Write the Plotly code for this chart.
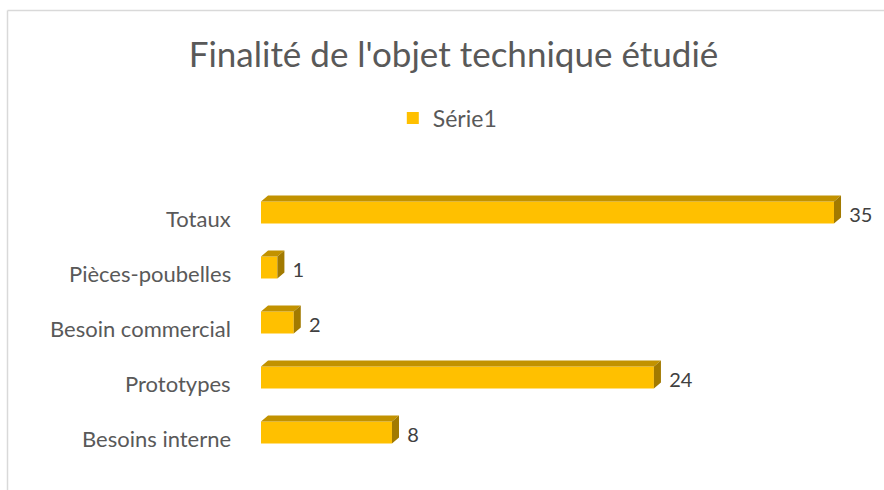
import plotly.graph_objects as go

categories = ["Besoins interne", "Prototypes", "Besoin commercial", "Pièces-poubelles", "Totaux"]
values = [8, 24, 2, 1, 35]
series_name = "Série1"
title_text = "Finalité de l'objet technique étudié"

FRONT = "#FFC000"
TOP = "#C29200"
SIDE = "#A27A00"
TXT = "#595959"
FONT = "Lato"

half = 0.2      # half bar thickness (category units)
dx = 0.43       # depth in value units
dy = 0.11       # depth in category units

idx = list(range(len(categories)))

fig = go.Figure()

# top faces
tx, ty = [], []
for i, v in zip(idx, values):
    tx += [0, v, v + dx, dx, 0, None]
    ty += [i + half, i + half, i + half + dy, i + half + dy, i + half, None]
fig.add_trace(go.Scatter(x=tx, y=ty, mode="lines", fill="toself", fillcolor=TOP,
                         line=dict(width=0, color=TOP), showlegend=False, hoverinfo="skip"))
# side faces
sx, sy = [], []
for i, v in zip(idx, values):
    sx += [v, v + dx, v + dx, v, v, None]
    sy += [i - half, i - half + dy, i + half + dy, i + half, i - half, None]
fig.add_trace(go.Scatter(x=sx, y=sy, mode="lines", fill="toself", fillcolor=SIDE,
                         line=dict(width=0, color=SIDE), showlegend=False, hoverinfo="skip"))
# front faces
fig.add_trace(go.Bar(x=values, y=idx, orientation="h", width=2 * half, name=series_name,
                     marker=dict(color=FRONT, line=dict(width=0)), hoverinfo="x+name"))
# value labels
fig.add_trace(go.Scatter(x=[v + dx + 0.5 for v in values], y=[i - 0.08 for i in idx],
                         mode="text", text=[str(v) for v in values], textposition="middle right",
                         textfont=dict(family=FONT, size=20, color="#404040"),
                         cliponaxis=False, showlegend=False, hoverinfo="skip"))

# category labels
for i, c in zip(idx, categories):
    fig.add_annotation(x=0, y=i, xref="paper", yref="y", text=c, showarrow=False,
                       xanchor="right", yanchor="middle", xshift=-28, yshift=-6,
                       font=dict(family=FONT, size=22, color=TXT))

fig.update_layout(
    width=884, height=490,
    margin=dict(l=261, r=14, t=185, b=30),
    paper_bgcolor="white", plot_bgcolor="white",
    title=dict(text=title_text, x=0.513, xref="container", y=1 - 55 / 490, yref="container",
               xanchor="center", yanchor="middle",
               font=dict(family=FONT, size=35, color=TXT)),
    legend=dict(orientation="h", x=0.506, xref="container", y=1 - 118 / 490, yref="container",
                xanchor="center", yanchor="middle",
                font=dict(family=FONT, size=23, color=TXT), itemwidth=30),
    xaxis=dict(range=[0, 37.2], visible=False, fixedrange=True),
    yaxis=dict(range=[-0.5, 4.5], tickvals=idx, showticklabels=False, showgrid=False,
               zeroline=False, showline=False, fixedrange=True),
    showlegend=True,
    bargap=0.6,
)

fig.add_shape(type="line", xref="paper", yref="paper", x0=-261 / 609 + 7.5 / 609, x1=-261 / 609 + 7.5 / 609,
              y0=-30 / 275, y1=(275 + 185 - 10.5) / 275, line=dict(color="#D9D9D9", width=1.5))
fig.add_shape(type="line", xref="paper", yref="paper", x0=-261 / 609 + 7.5 / 609, x1=(609 + 14) / 609,
              y0=(275 + 185 - 10.5) / 275, y1=(275 + 185 - 10.5) / 275, line=dict(color="#D9D9D9", width=1.5))

fig.write_html("out.html", config={"displayModeBar": False},
               post_script="document.body.style.margin='0';")
